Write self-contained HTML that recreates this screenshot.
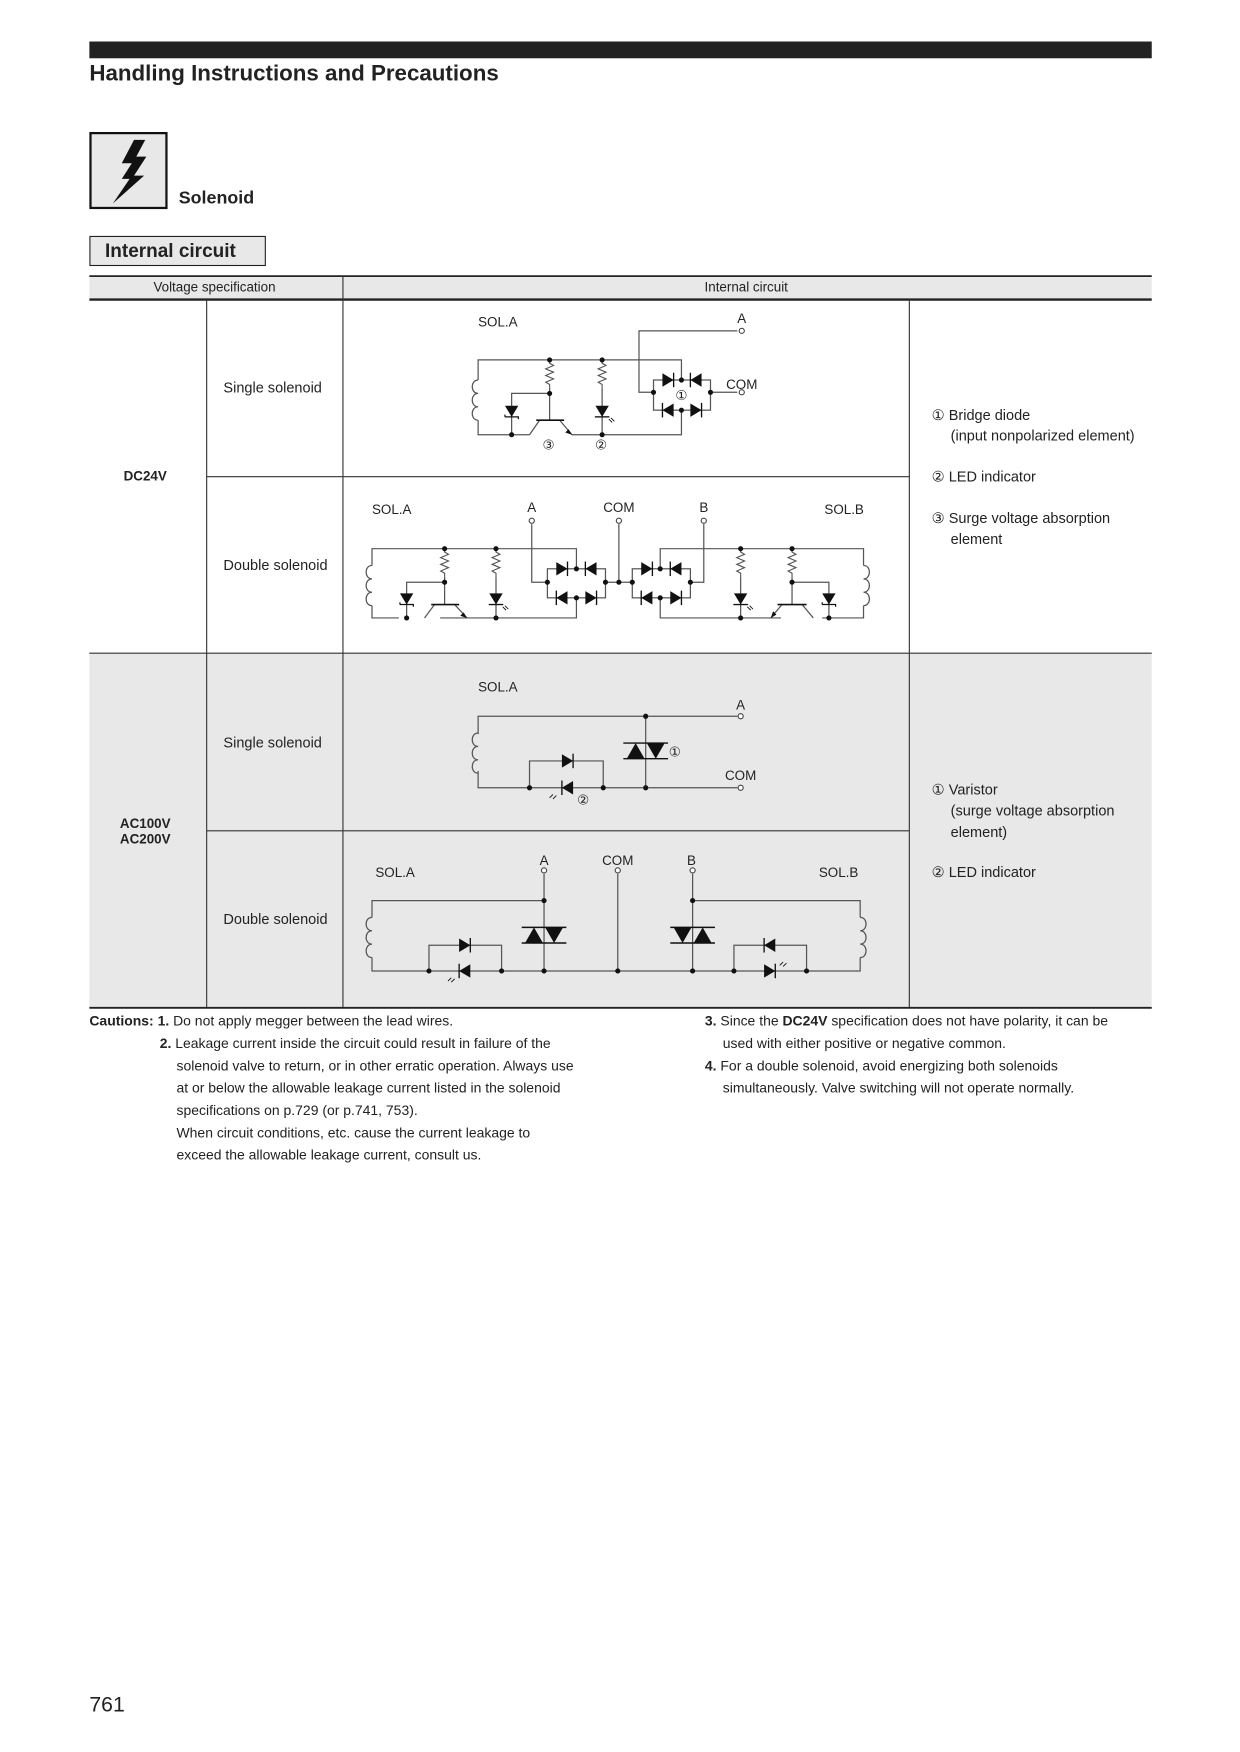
<!DOCTYPE html>
<html><head><meta charset="utf-8"><style>
html,body{margin:0;padding:0;background:#fff;width:1240px;height:1752px;overflow:hidden}
svg{display:block}
text{font-family:"Liberation Sans",sans-serif;fill:#222}
</style></head><body>
<svg width="1240" height="1752" viewBox="0 0 1110 1568" xmlns="http://www.w3.org/2000/svg">
<defs>
<g id="dR"><polygon points="-5,-6 -5,6 5,0" fill="#111"/><line x1="5" y1="-6.5" x2="5" y2="6.5" stroke="#111" stroke-width="1.2"/></g>
<g id="zD"><polygon points="-6,-5 6,-5 0,5" fill="#111"/><polyline points="-6,5 6,5 6,7" fill="none" stroke="#111" stroke-width="1.1"/><polyline points="-6,5 -6,3" fill="none" stroke="#111" stroke-width="1.1"/></g>
<g id="ledD"><polygon points="-6,-5 6,-5 0,5" fill="#111"/><line x1="-6.5" y1="5" x2="6.5" y2="5" stroke="#111" stroke-width="1.2"/><path d="M6,7 l3,3 M8,6 l3,3" stroke="#111" stroke-width="0.8"/></g>
<polyline id="res" points="0,0 0,3 3.5,5 -3.5,8 3.5,11 -3.5,14 3.5,17 -3.5,20 0,22 0,25" fill="none" stroke="#555" stroke-width="1"/>
<path id="coil" d="M0,0 c-7,0 -7,12 0,12 c-7,0 -7,12 0,12 c-7,0 -7,12 0,12" fill="none" stroke="#555" stroke-width="1.1"/>
<g id="var"><line x1="-20" y1="-7" x2="20" y2="-7" stroke="#111" stroke-width="1.3"/><line x1="-20" y1="7" x2="20" y2="7" stroke="#111" stroke-width="1.3"/><polygon points="-17,7 -1,7 -9,-7" fill="#111"/><polygon points="1,-7 17,-7 9,7" fill="#111"/></g>
</defs>

<!-- header -->
<rect x="80" y="37" width="951" height="15" fill="#222"/>
<text x="80" y="72" font-size="20" font-weight="bold">Handling Instructions and Precautions</text>
<rect x="81" y="119" width="68" height="67" fill="#e8e8e8" stroke="#111" stroke-width="2"/>
<polygon points="120,125 130,125 122,140 131,140 120,157 129,157 101,182 116,160 109,160 118,146 109,146" fill="#111"/>
<text x="160" y="182" font-size="16" font-weight="bold">Solenoid</text>
<rect x="80.5" y="211.5" width="157" height="26" fill="#e8e8e8" stroke="#222" stroke-width="1"/>
<text x="94" y="230" font-size="17" font-weight="bold">Internal circuit</text>

<!-- table -->
<rect x="80" y="248" width="951" height="20" fill="#e8e8e8"/>
<rect x="80" y="584" width="951" height="318" fill="#e8e8e8"/>
<line x1="80" y1="247" x2="1031" y2="247" stroke="#222" stroke-width="1.6"/>
<line x1="80" y1="268" x2="1031" y2="268" stroke="#222" stroke-width="2.2"/>
<text x="192" y="261" font-size="12" text-anchor="middle">Voltage specification</text>
<text x="668" y="261" font-size="12" text-anchor="middle">Internal circuit</text>
<g stroke="#333" stroke-width="1">
<line x1="307" y1="247" x2="307" y2="902"/>
<line x1="185" y1="268" x2="185" y2="902"/>
<line x1="814" y1="268" x2="814" y2="902"/>
<line x1="185" y1="426.5" x2="814" y2="426.5"/>
<line x1="80" y1="584.5" x2="1031" y2="584.5"/>
<line x1="185" y1="743.5" x2="814" y2="743.5"/>
</g>
<line x1="80" y1="902" x2="1031" y2="902" stroke="#222" stroke-width="1.6"/>
<text x="130" y="430" font-size="12" font-weight="bold" text-anchor="middle">DC24V</text>
<text x="130" y="741" font-size="12" font-weight="bold" text-anchor="middle">AC100V</text>
<text x="130" y="755" font-size="12" font-weight="bold" text-anchor="middle">AC200V</text>
<g font-size="13">
<text x="200" y="351">Single solenoid</text>
<text x="200" y="510">Double solenoid</text>
<text x="200" y="669">Single solenoid</text>
<text x="200" y="827">Double solenoid</text>
<text x="834" y="376">① Bridge diode</text>
<text x="851" y="394">(input nonpolarized element)</text>
<text x="834" y="431">② LED indicator</text>
<text x="834" y="468">③ Surge voltage absorption</text>
<text x="851" y="487">element</text>
<text x="834" y="711">① Varistor</text>
<text x="851" y="730">(surge voltage absorption</text>
<text x="851" y="749">element)</text>
<text x="834" y="785">② LED indicator</text>
</g>

<!-- circuit 1: DC single -->
<g font-size="12">
<text x="428" y="292">SOL.A</text><text x="664" y="289" text-anchor="middle">A</text><text x="650" y="348">COM</text>
<text x="610" y="358" text-anchor="middle" font-size="12">①</text>
<text x="491" y="402" text-anchor="middle">③</text><text x="538" y="402" text-anchor="middle">②</text>
</g>
<g stroke="#555" stroke-width="1.1" fill="none">
<polyline points="428,340 428,322 610,322 610,340"/>
<polyline points="428,376 428,389 474,389"/>
<polyline points="512,389 610,389 610,367"/>
<polyline points="660,296 572,296 572,351 585,351"/>
<polyline points="636,351 660,351"/>
<rect x="585" y="340" width="51" height="27"/>
<polyline points="492,347 492,376"/>
<polyline points="492,352 458,352 458,389"/>
<line x1="539" y1="347" x2="539" y2="389"/>
<line x1="483" y1="376" x2="474" y2="389"/>
<line x1="501" y1="376" x2="512" y2="389"/>
</g>
<line x1="480" y1="376" x2="505" y2="376" stroke="#111" stroke-width="1.5"/>
<polygon points="512,389 506,387 509,384" fill="#111"/>
<use href="#coil" transform="translate(428,340)"/>
<use href="#res" transform="translate(492,322)"/><use href="#res" transform="translate(539,322)"/>
<use href="#zD" transform="translate(458,368)"/><use href="#ledD" transform="translate(539,368)"/>
<use href="#dR" transform="translate(598,340)"/><use href="#dR" transform="translate(623,340) rotate(180)"/>
<use href="#dR" transform="translate(598,367) rotate(180)"/><use href="#dR" transform="translate(623,367)"/>
<g fill="#111"><circle cx="492" cy="322" r="2.3"/><circle cx="539" cy="322" r="2.3"/><circle cx="492" cy="352" r="2.3"/><circle cx="458" cy="389" r="2.3"/><circle cx="539" cy="389" r="2.3"/><circle cx="585" cy="351" r="2.3"/><circle cx="636" cy="351" r="2.3"/><circle cx="610" cy="340" r="2.3"/><circle cx="610" cy="367" r="2.3"/></g>
<g fill="#fff" stroke="#444"><circle cx="664" cy="296" r="2.3"/><circle cx="664" cy="351" r="2.3"/></g>

<!-- circuit 2: DC double -->
<g font-size="12">
<text x="333" y="460">SOL.A</text><text x="476" y="458" text-anchor="middle">A</text><text x="554" y="458" text-anchor="middle">COM</text><text x="630" y="458" text-anchor="middle">B</text><text x="738" y="460">SOL.B</text>
</g>
<g stroke="#555" stroke-width="1.1" fill="none">
<polyline points="333,506 333,491 516,491 516,509"/>
<polyline points="333,542 333,553 357,553"/>
<polyline points="394,553 516,553 516,535"/>
<polyline points="476,469 476,521 490,521"/>
<rect x="490" y="509" width="52" height="26"/>
<line x1="542" y1="521" x2="566" y2="521"/>
<line x1="554" y1="469" x2="554" y2="521"/>
<rect x="566" y="509" width="52" height="26"/>
<polyline points="630,469 630,521 618,521"/>
<polyline points="591,509 591,491 773,491 773,506"/>
<polyline points="591,535 591,553 699,553"/>
<polyline points="736,553 773,553 773,542"/>
<polyline points="398,516 398,541"/><polyline points="398,521 364,521 364,553"/>
<line x1="444" y1="516" x2="444" y2="553"/>
<line x1="389" y1="541" x2="380" y2="553"/><line x1="407" y1="541" x2="418" y2="553"/>
<polyline points="709,516 709,541"/><polyline points="709,521 742,521 742,553"/>
<line x1="663" y1="516" x2="663" y2="553"/>
<line x1="718" y1="541" x2="728" y2="553"/><line x1="700" y1="541" x2="690" y2="553"/>
</g>
<line x1="386" y1="541" x2="411" y2="541" stroke="#111" stroke-width="1.5"/>
<line x1="696" y1="541" x2="722" y2="541" stroke="#111" stroke-width="1.5"/>
<polygon points="418,553 412,551 415,548" fill="#111"/>
<polygon points="690,553 692,547 695,550" fill="#111"/>
<use href="#coil" transform="translate(333,506)"/>
<use href="#coil" transform="translate(773,506) scale(-1,1)"/>
<use href="#res" transform="translate(398,491)"/><use href="#res" transform="translate(444,491)"/>
<use href="#res" transform="translate(663,491)"/><use href="#res" transform="translate(709,491)"/>
<use href="#zD" transform="translate(364,536)"/><use href="#ledD" transform="translate(444,536)"/>
<use href="#ledD" transform="translate(663,536)"/><use href="#zD" transform="translate(742,536)"/>
<use href="#dR" transform="translate(503,509)"/><use href="#dR" transform="translate(529,509) rotate(180)"/>
<use href="#dR" transform="translate(503,535) rotate(180)"/><use href="#dR" transform="translate(529,535)"/>
<use href="#dR" transform="translate(579,509)"/><use href="#dR" transform="translate(605,509) rotate(180)"/>
<use href="#dR" transform="translate(579,535) rotate(180)"/><use href="#dR" transform="translate(605,535)"/>
<g fill="#111"><circle cx="398" cy="491" r="2.3"/><circle cx="444" cy="491" r="2.3"/><circle cx="398" cy="521" r="2.3"/><circle cx="364" cy="553" r="2.3"/><circle cx="444" cy="553" r="2.3"/>
<circle cx="490" cy="521" r="2.3"/><circle cx="542" cy="521" r="2.3"/><circle cx="516" cy="509" r="2.3"/><circle cx="516" cy="535" r="2.3"/><circle cx="554" cy="521" r="2.3"/>
<circle cx="566" cy="521" r="2.3"/><circle cx="618" cy="521" r="2.3"/><circle cx="591" cy="509" r="2.3"/><circle cx="591" cy="535" r="2.3"/>
<circle cx="663" cy="491" r="2.3"/><circle cx="709" cy="491" r="2.3"/><circle cx="709" cy="521" r="2.3"/><circle cx="663" cy="553" r="2.3"/><circle cx="742" cy="553" r="2.3"/></g>
<g fill="#fff" stroke="#444"><circle cx="476" cy="466" r="2.3"/><circle cx="554" cy="466" r="2.3"/><circle cx="630" cy="466" r="2.3"/></g>

<!-- circuit 3: AC single -->
<g font-size="12">
<text x="428" y="619">SOL.A</text><text x="663" y="635" text-anchor="middle">A</text><text x="649" y="698">COM</text>
<text x="604" y="677" text-anchor="middle">①</text><text x="522" y="720" text-anchor="middle">②</text>
</g>
<g stroke="#555" stroke-width="1.1" fill="none">
<polyline points="428,657 428,641 660,641"/>
<polyline points="428,690 428,705 660,705"/>
<line x1="578" y1="641" x2="578" y2="705"/>
<polyline points="474,705 474,681 540,681 540,705"/>
</g>
<use href="#coil" transform="translate(428,656)"/>
<use href="#var" transform="translate(578,672)"/>
<use href="#dR" transform="translate(508,681)"/>
<use href="#dR" transform="translate(508,705) rotate(180)"/>
<path d="M495,711 l-3,3 M498,712 l-3,3" stroke="#111" stroke-width="0.8"/>
<g fill="#111"><circle cx="578" cy="641" r="2.3"/><circle cx="578" cy="705" r="2.3"/><circle cx="474" cy="705" r="2.3"/><circle cx="540" cy="705" r="2.3"/></g>
<g fill="#fff" stroke="#444"><circle cx="663" cy="641" r="2.3"/><circle cx="663" cy="705" r="2.3"/></g>

<!-- circuit 4: AC double -->
<g font-size="12">
<text x="336" y="785">SOL.A</text><text x="487" y="774" text-anchor="middle">A</text><text x="553" y="774" text-anchor="middle">COM</text><text x="619" y="774" text-anchor="middle">B</text><text x="733" y="785">SOL.B</text>
</g>
<g stroke="#555" stroke-width="1.1" fill="none">
<polyline points="333,821 333,806 487,806"/>
<line x1="487" y1="782" x2="487" y2="869"/>
<polyline points="333,857 333,869 770,869 770,857"/>
<line x1="553" y1="782" x2="553" y2="869"/>
<line x1="620" y1="782" x2="620" y2="869"/>
<polyline points="620,806 770,806 770,821"/>
<polyline points="384,869 384,846 449,846 449,869"/>
<polyline points="657,869 657,846 722,846 722,869"/>
</g>
<use href="#coil" transform="translate(333,821)"/>
<use href="#coil" transform="translate(770,821) scale(-1,1)"/>
<use href="#var" transform="translate(487,837)"/>
<use href="#var" transform="translate(620,837) scale(-1,1)"/>
<use href="#dR" transform="translate(416,846)"/><use href="#dR" transform="translate(416,869) rotate(180)"/>
<use href="#dR" transform="translate(689,846) rotate(180)"/><use href="#dR" transform="translate(689,869)"/>
<path d="M404,875 l-3,3 M407,876 l-3,3 M701,861 l-3,3 M704,862 l-3,3" stroke="#111" stroke-width="0.8"/>
<g fill="#111"><circle cx="487" cy="806" r="2.3"/><circle cx="487" cy="869" r="2.3"/><circle cx="553" cy="869" r="2.3"/><circle cx="620" cy="806" r="2.3"/><circle cx="620" cy="869" r="2.3"/>
<circle cx="384" cy="869" r="2.3"/><circle cx="449" cy="869" r="2.3"/><circle cx="657" cy="869" r="2.3"/><circle cx="722" cy="869" r="2.3"/></g>
<g fill="#fff" stroke="#444"><circle cx="487" cy="779" r="2.3"/><circle cx="553" cy="779" r="2.3"/><circle cx="620" cy="779" r="2.3"/></g>

<!-- cautions -->
<g font-size="12.5">
<text x="80" y="918"><tspan font-weight="bold">Cautions: 1.</tspan> Do not apply megger between the lead wires.</text>
<text x="143" y="938"><tspan font-weight="bold">2.</tspan> Leakage current inside the circuit could result in failure of the</text>
<text x="158" y="958">solenoid valve to return, or in other erratic operation. Always use</text>
<text x="158" y="978">at or below the allowable leakage current listed in the solenoid</text>
<text x="158" y="998">specifications on p.729 (or p.741, 753).</text>
<text x="158" y="1018">When circuit conditions, etc.  cause the current leakage to</text>
<text x="158" y="1038">exceed the allowable leakage current, consult us.</text>
<text x="631" y="918"><tspan font-weight="bold">3.</tspan> Since the <tspan font-weight="bold">DC24V</tspan> specification does not have polarity, it can be</text>
<text x="647" y="938">used with either positive or negative common.</text>
<text x="631" y="958"><tspan font-weight="bold">4.</tspan> For a double solenoid, avoid energizing both solenoids</text>
<text x="647" y="978">simultaneously. Valve switching will not operate normally.</text>
</g>
<text x="80" y="1532" font-size="19">761</text>
</svg>
</body></html>
